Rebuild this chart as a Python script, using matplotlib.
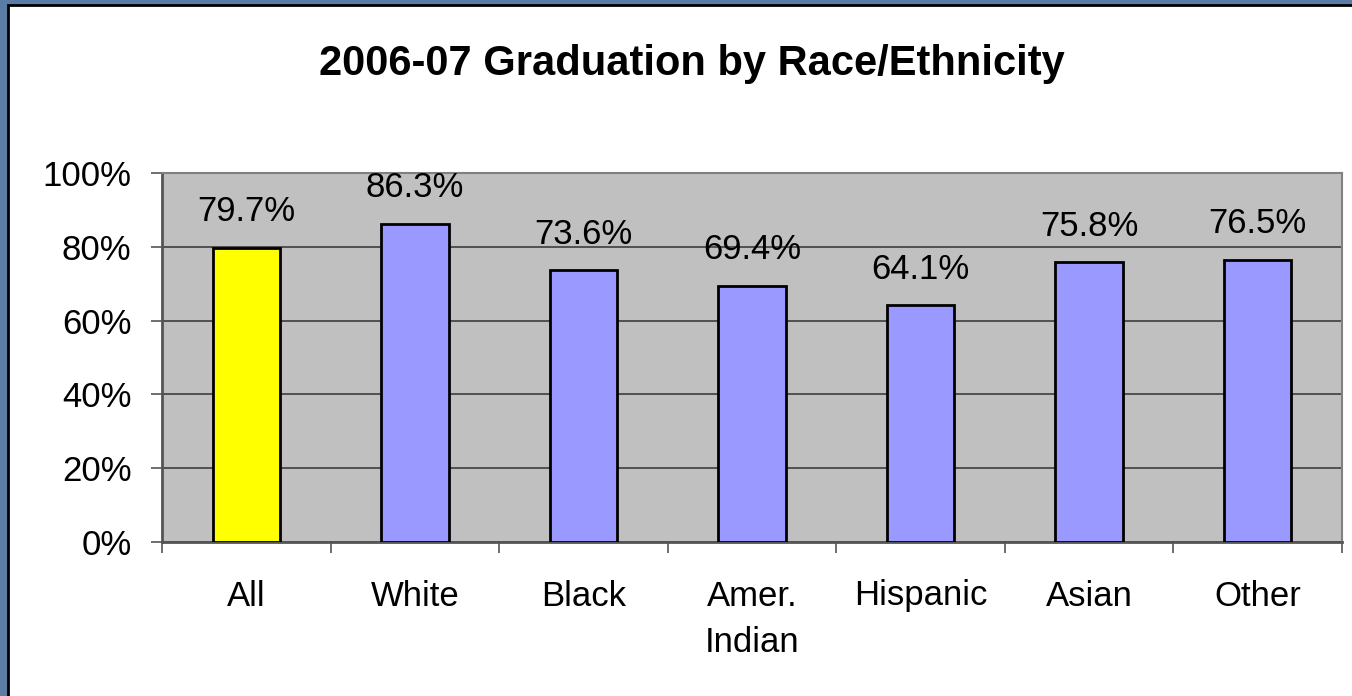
import matplotlib
matplotlib.use("Agg")
import matplotlib.pyplot as plt
from matplotlib.patches import Rectangle
import numpy as np

plt.rcParams['font.family'] = ['Liberation Sans', 'DejaVu Sans']

categories = ["All", "White", "Black", "Amer.\nIndian", "Hispanic", "Asian", "Other"]
rates = [79.7, 86.3, 73.6, 69.4, 64.1, 75.8, 76.5]
bar_colors = ["#FFFF00", "#9999FF", "#9999FF", "#9999FF", "#9999FF", "#9999FF", "#9999FF"]

W, H = 1352, 696
fig = plt.figure(figsize=(W / 100, H / 100), dpi=100)
fig.patch.set_facecolor("#5B7CA4")

# white slide panel with black border
panel = Rectangle((8 / W, -0.05), 1.2, 1 - 5 / H + 0.05, transform=fig.transFigure,
                  facecolor="white", edgecolor="black", linewidth=2, zorder=-5)
fig.patches.append(panel)

ax = fig.add_axes([162 / W, 1 - 542 / H, (1342 - 162) / W, (542 - 173) / H])
ax.set_facecolor("#C0C0C0")

x = np.arange(len(categories))
ax.bar(x, rates, width=0.4, color=bar_colors, edgecolor="black", linewidth=2, zorder=3)

for xi, v in zip(x, rates):
    ax.annotate(f"{v:.1f}%", (xi, v), xytext=(0, 14), textcoords="offset points",
                ha="center", va="bottom", fontsize=25, color="black")

ax.set_xlim(-0.5, len(categories) - 0.5)
ax.set_ylim(0, 100)
ax.set_yticks([0, 20, 40, 60, 80, 100])
ax.set_yticklabels([f"{t}%" for t in [0, 20, 40, 60, 80, 100]], fontsize=25)
ax.yaxis.grid(True, color="#484848", linewidth=1.3, zorder=1)
ax.set_axisbelow(True)

# category boundary ticks
ax.set_xticks(np.arange(-0.5, len(categories), 1.0))
ax.set_xticklabels([])
ax.set_xticks(x, minor=True)
ax.set_xticklabels(categories, minor=True, fontsize=25, linespacing=1.5)
ax.tick_params(axis="x", which="major", length=8, width=1.2, color="#555555")
ax.tick_params(axis="x", which="minor", length=0, pad=27)
ax.tick_params(axis="y", length=8, width=1.2, color="#555555", pad=14)

for s in ["top", "right"]:
    ax.spines[s].set_color("#808080")
    ax.spines[s].set_linewidth(1.5)
for s in ["left", "bottom"]:
    ax.spines[s].set_color("#555555")
    ax.spines[s].set_linewidth(2)

fig.text(692 / W, 1 - 64 / H, "2006-07 Graduation by Race/Ethnicity", ha="center", va="center",
         fontsize=30, fontweight="bold")

fig.savefig("out.png", dpi=100, facecolor=fig.get_facecolor())
